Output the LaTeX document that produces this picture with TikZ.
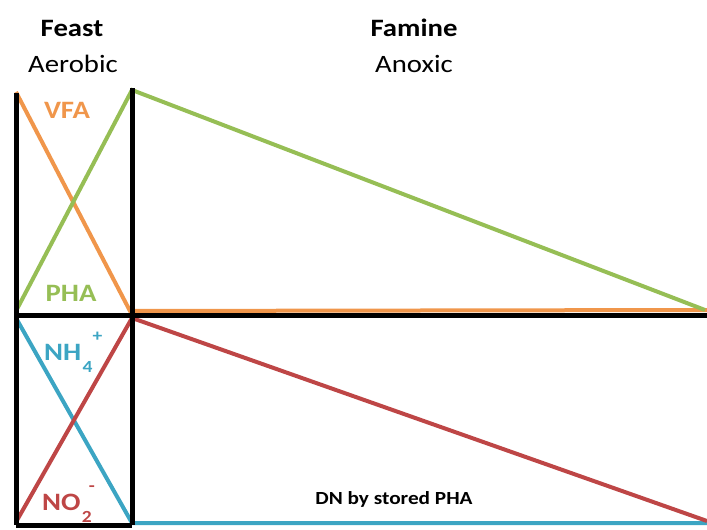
\documentclass[tikz,border=0pt]{standalone}
\usepackage{graphicx}
\usepackage{fontspec}
\setmainfont{Carlito}
\usetikzlibrary{calc}
\definecolor{vfa}{RGB}{240,150,75}
\definecolor{pha}{RGB}{150,190,85}
\definecolor{nh}{RGB}{60,165,195}
\definecolor{no}{RGB}{190,70,70}
\newcommand{\wide}[1]{\scalebox{1.15}[1]{#1}}
\newcommand{\smallsc}[1]{{\fontsize{17}{17}\selectfont\bfseries #1}}
\begin{document}
\begin{tikzpicture}[x=1pt,y=-1pt,
  blk/.style={line width=5pt,black},
  col/.style={line width=4pt},
  head/.style={font=\fontsize{25}{30}\selectfont\bfseries,inner sep=0pt},
  sub/.style={font=\fontsize{25}{30}\selectfont,inner sep=0pt},
  lab/.style={font=\fontsize{25}{30}\selectfont\bfseries,inner sep=0pt},
  idx/.style={inner sep=0pt,anchor=west},
  dnlab/.style={font=\fontsize{18.5}{22}\selectfont\bfseries,inner sep=0pt}]
\useasboundingbox (0,0) rectangle (707,530);
% coordinates
\coordinate (A) at (16,93);
\coordinate (B) at (132,88);
\coordinate (Am) at (16,315);
\coordinate (Bm) at (132,315);
\coordinate (Ab) at (16,525);
\coordinate (Bb) at (132,525);
\coordinate (Rm) at (707,315);
\coordinate (vfaS) at (16,92);
\coordinate (vfaE) at (130,311);
\coordinate (oR) at (707,310);
\coordinate (phaS) at (16,311);
\coordinate (phaT) at (132,90);
\coordinate (phaE) at (705,310);
\coordinate (nhS) at (16,318);
\coordinate (nhE) at (132,523);
\coordinate (nhR) at (707,523);
\coordinate (noS) at (16,522);
\coordinate (noT) at (132,318);
\coordinate (noE) at (707,521);
% colored lines
\draw[col,vfa] (vfaS) -- (vfaE) -- (oR);
\draw[col,pha] (phaS) -- (phaT) -- (phaE);
\draw[col,nh] (nhS) -- (nhE) -- (nhR);
\draw[col,no] (noS) -- (noT) -- (noE);
% black frame
\draw[blk] (A) -- (Ab);
\draw[blk] (B) -- (Bb);
\draw[blk] (Am) -- (Rm);
\draw[blk] (Ab) -- (Bb);
% texts
\node[head] (feast) at (72,28) {\wide{Feast}};
\node[sub] (aer) at (73,64) {\wide{Aerobic}};
\node[head] (famine) at (414,28) {\wide{Famine}};
\node[sub] (anox) at (414,64) {\wide{Anoxic}};
\node[lab,text=vfa] (vfat) at (67,110) {\wide{VFA}};
\node[lab,text=pha] (phat) at (71,293) {\wide{PHA}};
\node[lab,text=nh,anchor=west] (nht) at (44,352) {\wide{NH}};
\node[idx,text=nh] (nh4) at ($(nht.east)+(1,15)$) {\wide{\smallsc{4}}};
\node[idx,text=nh] (nhp) at ($(nht.east)+(11,-15)$) {\wide{\smallsc{+}}};
\node[lab,text=no,anchor=west] (not) at (42,502) {\wide{NO}};
\node[idx,text=no] (no2) at ($(not.east)+(1,15)$) {\wide{\smallsc{2}}};
\node[idx,text=no] (nom) at ($(not.east)+(8,-13)$) {\wide{\smallsc{-}}};
\node[dnlab,anchor=base] (dn) at (394,504) {\wide{DN by stored PHA}};
\end{tikzpicture}
\end{document}
